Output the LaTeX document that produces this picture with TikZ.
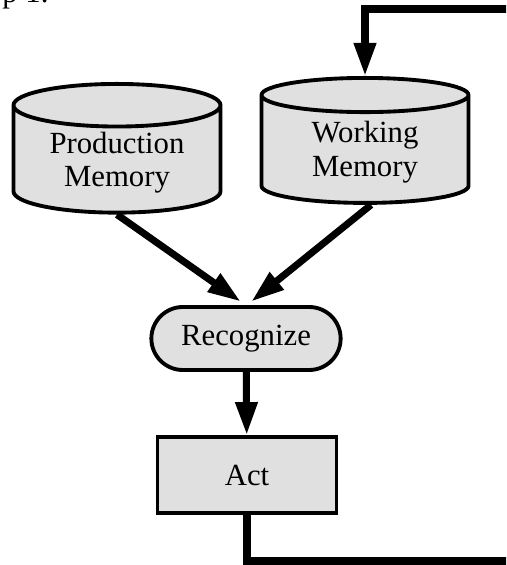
\documentclass[tikz,border=0pt]{standalone}
\usepackage{fontspec}
\setmainfont{Liberation Serif}
\usepackage{tikz}
\usetikzlibrary{arrows.meta,positioning,shapes.geometric,shapes.misc}
\definecolor{dotgray}{HTML}{E0E0E0}

\begin{document}
\begin{tikzpicture}[
  font=\fontsize{17.5}{19}\selectfont,
  store/.style={cylinder,shape border rotate=90,aspect=0.3,draw,line width=2.2pt,
    fill=dotgray,align=center,minimum width=4.14cm,minimum height=2.5cm,inner sep=2pt},
  stage/.style={rounded rectangle,draw,line width=2.2pt,fill=dotgray,
    minimum width=4.02cm,minimum height=1.26cm},
  actbox/.style={rectangle,draw,line width=2.2pt,fill=dotgray,
    minimum width=3.58cm,minimum height=1.52cm},
  arr/.style={-{Triangle[length=0.66cm,width=0.42cm]},line width=4pt},
  loop/.style={line width=4pt}
]
\useasboundingbox (0,0) rectangle (10.12,-11.3);
\clip (0,0) rectangle (10.12,-11.3);
\node[anchor=base west,inner sep=0pt] (hdr) at (0.04,-0.05) {p 1.};
\node[store,anchor=north] (pm) at (2.34,-1.64) {Production\\Memory};
\node[store,anchor=north] (wm) at (7.3,-1.52) {Working\\Memory};
\node[stage] (rec) at (4.92,-6.77) {Recognize};
\node[actbox] (act) at (4.94,-9.5) {Act};
\coordinate (loopin) at (10.4,-0.18);
\coordinate (loopout) at (10.4,-11.22);
\draw[arr] (pm.south) -- ([xshift=-3pt,yshift=2pt]rec.north);
\draw[arr] ([xshift=0.12cm]wm.south) -- ([xshift=3pt,yshift=2pt]rec.north);
\draw[arr] (rec) -- (act);
\draw[loop] (act.south) |- (loopout);
\draw[arr] (loopin) -| (wm.north);
\end{tikzpicture}
\end{document}
